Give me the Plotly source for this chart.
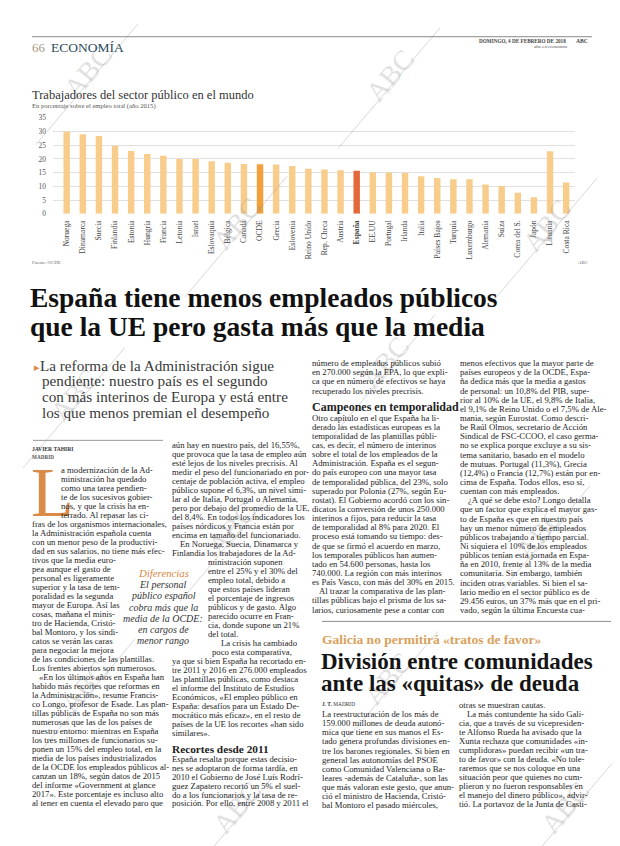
import plotly.graph_objects as go

# page is 620x846; the browser puts the figure 8px in from the top-left corner
PAGE_W, PAGE_H = 620, 846
OFF = 8
W, H = PAGE_W - OFF, PAGE_H - OFF
SERIF = "Liberation Serif"

# ---------------- chart data ----------------
countries = ["Noruega", "Dinamarca", "Suecia", "Finlandia", "Estonia", "Hungría", "Francia",
             "Letonia", "Israel", "Eslovaquia", "Bélgica", "Canadá", "OCDE", "Grecia",
             "Eslovenia", "Reino Unido", "Rep. Checa", "Austria", "España", "EE.UU",
             "Portugal", "Irlanda", "Italia", "Países Bajos", "Turquía", "Luxemburgo",
             "Alemania", "Suiza", "Corea del S.", "Japón", "Lituania", "Costa Rica"]
values = [30.0, 29.0, 28.4, 24.8, 22.9, 21.8, 21.2, 20.0, 20.0, 19.2, 18.6, 18.2, 18.1, 18.0,
          17.4, 16.4, 16.2, 15.9, 15.7, 15.2, 15.1, 14.9, 13.7, 13.1, 12.6, 12.6, 10.7, 10.1,
          7.7, 6.0, 22.8, 11.4]
y_ticks = [0, 5, 10, 15, 20, 25, 30, 35]

chart_title = "Trabajadores del sector público en el mundo"
chart_subtitle = "En porcentaje sobre el empleo total (año 2015)"
source_text = "Fuente: OCDE"

# ---------------- article text ----------------
headline = ["España tiene menos empleados públicos", "que la UE pero gasta más que la media"]
subhead = ["La reforma de la Administración sigue", "pendiente: nuestro país es el segundo",
           "con más interinos de Europa y está entre", "los que menos premian el desempeño"]

col1 = ["a modernización de la Ad-", "ministración ha quedado", "como una tarea pendien-",
        "te de los sucesivos gobier-", "nos, y que la crisis ha en-", "terrado. Al repasar las ci-",
        "fras de los organismos internacionales,", "la Administración española cuenta",
        "con un menor peso de la productivi-", "dad en sus salarios, no tiene más efec-",
        "tivos que la media euro-", "pea aunque el gasto de", "personal es ligeramente",
        "superior y la tasa de tem-", "poralidad es la segunda", "mayor de Europa. Así las",
        "cosas, mañana el minis-", "tro de Hacienda, Cristó-", "bal Montoro, y los sindi-",
        "catos se verán las caras", "para negociar la mejora",
        "de las condiciones de las plantillas.", "Los frentes abiertos son numerosos.",
        "«En los últimos años en España han", "habido más recortes que reformas en",
        "la Administración», resume Francis-", "co Longo, profesor de Esade. Las plan-",
        "tillas públicas de España no son más", "numerosas que las de los países de",
        "nuestro entorno: mientras en España", "los tres millones de funcionarios su-",
        "ponen un 15% del empleo total, en la", "media de los países industrializados",
        "de la OCDE los empleados públicos al-", "canzan un 18%, según datos de 2015",
        "del informe «Government at glance", "2017». Este porcentaje es incluso alto",
        "al tener en cuenta el elevado paro que"]

col2a = ["aún hay en nuestro país, del 16,55%,", "que provoca que la tasa de empleo aún",
         "esté lejos de los niveles precrisis. Al", "medir el peso del funcionariado en por-",
         "centaje de población activa, el empleo", "público supone el 6,3%, un nivel simi-",
         "lar al de Italia, Portugal o Alemania,", "pero por debajo del promedio de la UE,",
         "del 8,4%. En todos los indicadores los", "países nórdicos y Francia están por",
         "encima en tamaño del funcionariado.", "En Noruega, Suecia, Dinamarca y",
         "Finlandia los trabajadores de la Ad-", "ministración suponen",
         "entre el 25% y el 30% del", "empleo total, debido a", "que estos países lideran",
         "el porcentaje de ingresos", "públicos y de gasto. Algo", "parecido ocurre en Fran-",
         "cia, donde supone un 21%", "del total.", "La crisis ha cambiado",
         "poco esta comparativa,", "ya que si bien España ha recortado en-",
         "tre 2011 y 2016 en 276.000 empleados", "las plantillas públicas, como destaca",
         "el informe del Instituto de Estudios", "Económicos, «El empleo público en",
         "España: desafíos para un Estado De-", "mocrático más eficaz», en el resto de",
         "países de la UE los recortes «han sido", "similares»."]
col2_heading = "Recortes desde 2011"
col2b = ["España resalta porque estas decisio-", "nes se adoptaron de forma tardía, en",
         "2010 el Gobierno de José Luis Rodrí-", "guez Zapatero recortó un 5% el suel-",
         "do a los funcionarios y la tasa de re-", "posición. Por ello, entre 2008 y 2011 el"]

col3a = ["número de empleados públicos subió", "en 270.000 según la EPA, lo que expli-",
         "ca que en número de efectivos se haya", "recuperado los niveles precrisis."]
col3_heading = "Campeones en temporalidad"
col3b = ["Otro capítulo en el que España ha li-", "derado las estadísticas europeas es la",
         "temporalidad de las plantillas públi-", "cas, es decir, el número de interinos",
         "sobre el total de los empleados de la", "Administración. España es el segun-",
         "do país europeo con una mayor tasa", "de temporalidad pública, del 23%, solo",
         "superado por Polonia (27%, según Eu-", "rostat). El Gobierno acordó con los sin-",
         "dicatos la conversión de unos 250.000", "interinos a fijos, para reducir la tasa",
         "de temporalidad al 8% para 2020. El", "proceso está tomando su tiempo: des-",
         "de que se firmó el acuerdo en marzo,", "los temporales públicos han aumen-",
         "tado en 54.600 personas, hasta los", "740.000. La región con más interinos",
         "es País Vasco, con más del 30% en 2015.", "Al trazar la comparativa de las plan-",
         "tillas públicas bajo el prisma de los sa-", "larios, curiosamente pese a contar con"]

col4 = ["menos efectivos que la mayor parte de", "países europeos y de la OCDE, Espa-",
        "ña dedica más que la media a gastos", "de personal: un 10,8% del PIB, supe-",
        "rior al 10% de la UE, el 9,8% de Italia,", "el 9,1% de Reino Unido o el 7,5% de Ale-",
        "mania, según Eurostat. Como descri-", "be Raúl Olmos, secretario de Acción",
        "Sindical de FSC-CCOO, el caso germa-", "no se explica porque excluye a su sis-",
        "tema sanitario, basado en el modelo", "de mutuas. Portugal (11,3%), Grecia",
        "(12,4%) o Francia (12,7%) están por en-", "cima de España. Todos ellos, eso sí,",
        "cuentan con más empleados.", "¿A qué se debe esto? Longo detalla",
        "que un factor que explica el mayor gas-", "to de España es que en nuestro país",
        "hay un menor número de empleados", "públicos trabajando a tiempo parcial.",
        "Ni siquiera el 10% de los empleados", "públicos tenían esta jornada en Espa-",
        "ña en 2010, frente al 13% de la media", "comunitaria. Sin embargo, también",
        "inciden otras variables. Si bien el sa-", "lario medio en el sector público es de",
        "29.456 euros, un 37% más que en el pri-", "vado, según la última Encuesta cua-"]

pull_kicker = "Diferencias"
pull_quote = ["El personal", "público español", "cobra más que la", "media de la OCDE:",
              "en cargos de", "menor rango"]

box_kicker = "Galicia no permitirá «tratos de favor»"
box_headline = ["División entre comunidades", "ante las «quitas» de deuda"]
box_left = ["La reestructuración de los más de", "159.000 millones de deuda autonó-",
            "mica que tiene en sus manos el Es-", "tado genera profundas divisiones en-",
            "tre los barones regionales. Si bien en", "general las autonomías del PSOE",
            "como Comunidad Valenciana o Ba-", "leares -además de Cataluña-, son las",
            "que más valoran este gesto, que anun-", "ció el ministro de Hacienda, Cristó-",
            "bal Montoro el pasado miércoles,"]
box_right = ["otras se muestran cautas.", "La más contundente ha sido Gali-",
             "cia, que a través de su vicepresiden-", "te Alfonso Rueda ha avisado que la",
             "Xunta rechaza que comunidades «in-", "cumplidoras» puedan recibir «un tra-",
             "to de favor» con la deuda. «No tole-", "raremos que se nos coloque en una",
             "situación peor que quienes no cum-", "plieron y no fueron responsables en",
             "el manejo del dinero público», advir-", "tió. La portavoz de la Junta de Casti-"]

# ---------------- styling ----------------
BAR = "#F8CD8C"
highlight = {"OCDE": "#F2A03C", "España": "#E4693A"}
bar_colors = [highlight.get(c, BAR) for c in countries]
ticktext = ["<b>%s</b>" % c if c == "España" else c for c in countries]

BODY = 8.7
TXT = "#1e1e1e"


def px_x(x):
    return (x - OFF) / W


def px_y(y):
    return 1 - (y - OFF) / H


fig = go.Figure(go.Bar(x=countries, y=values, marker=dict(color=bar_colors, line=dict(width=0)),
                       hoverinfo="skip"))

ann = []
shapes = []


def T(text, x, y, size, color=TXT, family=SERIF, xanchor="left", yanchor="middle", angle=0):
    ann.append(dict(text=text, x=px_x(x), y=px_y(y), xref="paper", yref="paper",
                    showarrow=False, xanchor=xanchor, yanchor=yanchor, textangle=angle,
                    borderpad=0, font=dict(family=family, size=size, color=color)))


def L(x0, y0, x1, y1, color="#888", width=1):
    shapes.append(dict(type="line", xref="paper", yref="paper", x0=px_x(x0), y0=px_y(y0),
                       x1=px_x(x1), y1=px_y(y1), line=dict(color=color, width=width)))


# watermarks (drawn first, underneath)
marks = [(88, 68), (390, 72), (237, 222), (547, 224), (75, 395), (385, 362), (232, 530),
         (540, 535), (85, 690), (388, 682), (237, 812), (565, 812)]
for cx, cy in marks:
    T("ABC", cx, cy, 28, "rgba(150,150,150,0.30)", xanchor="center", yanchor="middle", angle=-50)
    L(cx - 52, cy + 74, cx + 50, cy - 48, "rgba(130,130,130,0.45)", 0.7)

# header
L(32, 33, 592, 33, "#8a8a8a", 1)
T("66", 31, 43.5, 13, "#a89886")
T("ECONOMÍA", 50, 43.5, 13.5, "#2c4b5d")
T("<b>DOMINGO, 4 DE FEBRERO DE 2018</b>", 567, 37.5, 5.2, "#444", xanchor="right")
T("<b>ABC</b>", 575, 37.5, 5.6, "#444")
T("abc.es/economia", 569, 43, 5, "#555", xanchor="right")

# chart texts
T(chart_title, 31, 92, 12.5, "#333")
T(chart_subtitle, 31, 103.5, 6.6, "#555")
T(source_text, 31, 261.5, 4.8, "#666")
T("ABC", 577, 261.5, 4.8, "#666")

# headline
T("<b>%s</b>" % headline[0], 29, 297, 27.5, "#111")
T("<b>%s</b>" % headline[1], 29, 326, 27.5, "#111")

# subhead
for i, s in enumerate(subhead):
    if i == 0:
        s = "<span style='color:#E08A45;font-size:11px'>▸</span>" + s
        T(s, 33, 365, 15.2, "#3a3a3a")
    else:
        T(s, 41, 365 + i * 16.0, 15.2, "#3a3a3a")

# byline
L(33, 441, 163, 441, "#999", 1)
T("<b>JAVIER TAHIRI</b>", 31, 449.5, 5.6, "#333")
T("<b>MADRID</b>", 31, 457.5, 5.2, "#555")

# drop cap
T("L", 30, 494, 70, "#DC8A48")

DY = 9.1
col1_x = {i: 60 for i in range(6)}
col1_x[23] = 38
for i, s in enumerate(col1):
    T(s, col1_x.get(i, 31), 471 + i * DY, BODY)

col2_x = {11: 179}
for i in range(13, 22):
    col2_x[i] = 207
col2_x[22] = 220
col2_x[23] = 211
for i, s in enumerate(col2a):
    T(s, col2_x.get(i, 171), 446 + i * DY, BODY)
T("<b>%s</b>" % col2_heading, 171, 753, 11.3, "#222")
for i, s in enumerate(col2b):
    T(s, 171, 763 + i * 9.0, BODY)

# pull quote
T("<i>%s</i>" % pull_kicker, 163, 575, 10.8, "#D9883F", xanchor="center")
for i, s in enumerate(pull_quote):
    T("<i>%s</i>" % s, 163, 587 + i * 11.3, 10, "#333", xanchor="center")

DY2 = 9.24
for i, s in enumerate(col3a):
    T(s, 311, 363 + i * DY2, BODY)
T("<b>%s</b>" % col3_heading, 311, 407.5, 12, "#222")
for i, s in enumerate(col3b):
    T(s, 318 if i == 19 else 311, 418 + i * DY2, BODY)

for i, s in enumerate(col4):
    T(s, 467 if i == 15 else 459, 363 + i * DY2, BODY)

# bottom box
L(322, 624, 611, 624, "#8a8a8a", 1)
T("<b>%s</b>" % box_kicker, 321, 642, 13.5, "#D9A15C")
T("<b>%s</b>" % box_headline[0], 320, 665, 23, "#151515")
T("<b>%s</b>" % box_headline[1], 320, 687, 23, "#151515")
T("<b>J. T.</b> MADRID", 321, 707.5, 5.4, "#333")
DY3 = 9.13
for i, s in enumerate(box_left):
    T(s, 321, 718 + i * DY3, BODY)
for i, s in enumerate(box_right):
    T(s, 466 if i == 1 else 458, 708.5 + i * DY3, BODY)

fig.update_layout(
    width=W, height=H, margin=dict(l=0, r=0, t=0, b=0),
    paper_bgcolor="white", plot_bgcolor="white", showlegend=False,
    bargap=0.6,
    xaxis=dict(domain=[px_x(53), px_x(575)], range=[-0.85, 31.55], type="category",
               tickvals=countries, ticktext=ticktext, tickangle=-90,
               tickfont=dict(family=SERIF, size=7.6, color="#444"),
               showgrid=False, zeroline=False, showline=False, ticks="", ticklabelstandoff=4,
               fixedrange=True),
    yaxis=dict(domain=[px_y(212), px_y(115)], range=[0, 35], tickvals=y_ticks,
               tickfont=dict(family=SERIF, size=7.4, color="#555"),
               showgrid=True, gridcolor="#e0e0e0", gridwidth=1, zeroline=False,
               showline=False, ticks="", ticklabelstandoff=6, fixedrange=True),
    annotations=ann, shapes=shapes,
)

fig.write_html("out.html")
